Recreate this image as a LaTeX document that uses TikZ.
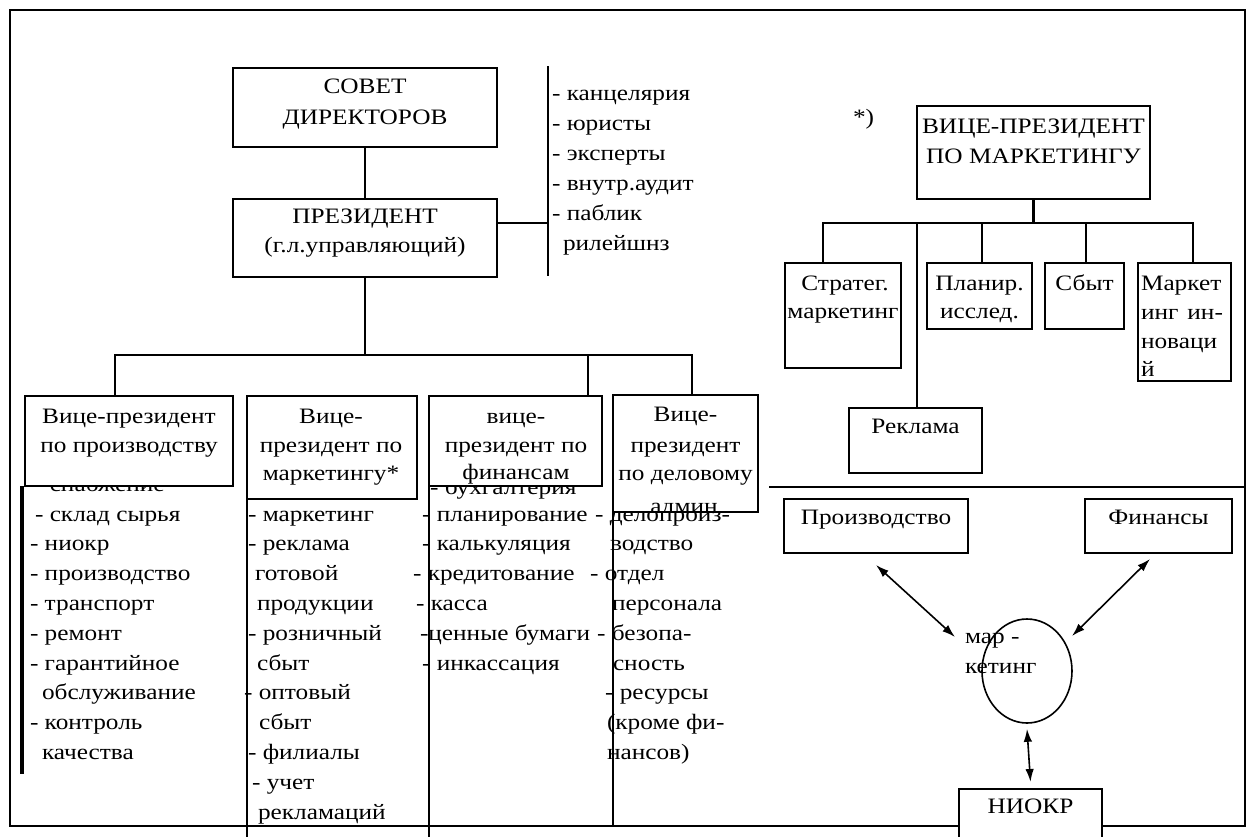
\documentclass[tikz,border=0pt]{standalone}
\usepackage{fontspec}
\setmainfont{Liberation Serif}[FakeStretch=1.15]
\usetikzlibrary{arrows.meta,calc,shapes.geometric}
\newcommand\mkbox[5]{\node[bx, minimum width={#4-#2}, minimum height={#5-#3}] (#1) at (#2,#3) {};}
\newcommand\ctx[4]{\node[txt, anchor=base west] (#1) at (#2,{521+29.8*(#3)}) {#4};}
\newcommand\tc[4]{\node[txt, anchor=base] (#1) at (#2,#3) {#4};}
\newcommand\tw[4]{\node[txt, anchor=base west] (#1) at (#2,#3) {#4};}
\begin{document}
\begin{tikzpicture}[x=1pt,y=-1pt,
  txt/.style={inner sep=0pt, outer sep=0pt, font=\fontsize{22}{26}\selectfont},
  bx/.style={draw, line width=2.6pt, fill=white, inner sep=0pt, outer sep=0pt, anchor=north west},
  ln/.style={line width=2.6pt},
  thinln/.style={line width=2pt},
  dbl/.style={line width=1.6pt, {Latex[length=13pt,width=8.5pt]}-{Latex[length=13pt,width=8.5pt]}}]
\useasboundingbox (0,0) rectangle (1250,836);
\clip (0,0) rectangle (1250,836);
\fill[white] (0,0) rectangle (1250,836);
% outer frame
\draw[ln] (10,10) rectangle (1245,826);

% ---------- column texts (under the boxes) ----------
\ctx{c1a}{35}{-1}{- снабжение}
\ctx{c1b}{35}{0}{- склад сырья}
\ctx{c1c}{30}{1}{- ниокр}
\ctx{c1d}{30}{2}{- производство}
\ctx{c1e}{30}{3}{- транспорт}
\ctx{c1f}{30}{4}{- ремонт}
\ctx{c1g}{30}{5}{- гарантийное}
\ctx{c1h}{42}{6}{обслуживание}
\ctx{c1i}{30}{7}{- контроль}
\ctx{c1j}{42}{8}{качества}

\ctx{c2a}{248}{0}{- маркетинг}
\ctx{c2b}{248}{1}{- реклама}
\ctx{c2c}{255}{2}{готовой}
\ctx{c2d}{257}{3}{продукции}
\ctx{c2e}{248}{4}{- розничный}
\ctx{c2f}{257}{5}{сбыт}
\ctx{c2g}{244}{6}{- оптовый}
\ctx{c2h}{259}{7}{сбыт}
\ctx{c2i}{248}{8}{- филиалы}
\ctx{c2j}{252}{9}{- учет}
\ctx{c2k}{258}{10}{рекламаций}

\ctx{c3a}{430}{-0.9}{- бухгалтерия}
\ctx{c3b}{422}{0}{- планирование}
\ctx{c3c}{422}{1}{- калькуляция}
\ctx{c3d}{413}{2}{- кредитование}
\ctx{c3e}{416}{3}{- касса}
\ctx{c3f}{420}{4}{-ценные бумаги}
\ctx{c3g}{422}{5}{- инкассация}

\ctx{c4a}{595}{0}{- делопроиз-}
\ctx{c4b}{610}{1}{водство}
\ctx{c4c}{590}{2}{- отдел}
\ctx{c4d}{612}{3}{персонала}
\ctx{c4e}{597}{4}{- безопа-}
\ctx{c4f}{613}{5}{сность}
\ctx{c4g}{605}{6}{- ресурсы}
\ctx{c4h}{607}{7}{(кроме фи-}
\ctx{c4i}{607}{8}{нансов)}

% ---------- top left boxes ----------
\mkbox{sovet}{233}{68}{497}{147}
\mkbox{pres}{233}{199}{497}{277}
\draw[ln] (sovet.south) -- (pres.north);
\coordinate (prj) at (548,223);
\coordinate (lt) at (548,66);
\coordinate (lb) at (548,276);
\draw[ln] (prj -| pres.east) -- (prj);
\draw[thinln] (lt) -- (lb);
\tc{t1}{365}{93}{СОВЕТ}
\tc{t2}{365}{124}{ДИРЕКТОРОВ}
\tc{t3}{365}{223}{ПРЕЗИДЕНТ}
\tc{t4}{365}{252}{(г.л.управляющий)}
\tw{l1}{552}{100}{- канцелярия}
\tw{l2}{552}{130}{- юристы}
\tw{l3}{552}{160}{- эксперты}
\tw{l4}{552}{190}{- внутр.аудит}
\tw{l5}{552}{220}{- паблик}
\tw{l6}{563}{250}{рилейшнз}

% ---------- vice president boxes ----------
\mkbox{vp1}{25}{396}{233}{486}
\mkbox{vp2}{247}{396}{417}{499}
\mkbox{vp3}{429}{396}{602}{486}
\mkbox{vp4}{613}{395}{758}{512}

\coordinate (bus) at (365,355);
\coordinate (busL) at (115,355);
\coordinate (busR) at (692,355);
\coordinate (bus3) at (588,355);
\draw[ln] (pres.south) -- (bus);
\draw[ln] (busL |- vp1.north) -- (busL) -- (busR) -- (busR |- vp4.north);
\draw[ln] (bus3) -- (bus3 |- vp3.north);

% column lines
\coordinate (c1top) at (22,486);
\coordinate (c1bot) at (22,774);
\draw[line width=4pt] (c1top) -- (c1bot);
\draw[ln] (vp2.south west) -- ++(0,360);
\draw[ln] (vp3.south west) -- ++(0,360);
\draw[ln] (vp4.south west) -- ++(0,314);

\tc{v1a}{129}{423}{Вице-президент}
\tc{v1b}{129}{452}{по производству}
\tc{v2a}{331}{423}{Вице-}
\tc{v2b}{331}{452}{президент по}
\tc{v2c}{331}{480}{маркетингу*}
\tc{v3a}{516}{423}{вице-}
\tc{v3b}{516}{452}{президент по}
\tc{v3c}{516}{479}{финансам}
\tc{v4a}{685.5}{421}{Вице-}
\tc{v4b}{685.5}{452}{президент}
\tc{v4c}{685.5}{480}{по деловому}
\begin{scope}
\clip (vp4.south west) rectangle (vp4.north east);
\tc{v4d}{684}{513}{админ}
\end{scope}
\draw[ln] (vp4.south west) -- (vp4.south east);

% ---------- right top: marketing VP ----------
\coordinate (hl) at (769,487);
\coordinate (hr) at (1245,487);
\draw[ln] (hl) -- (hr);
\tw{star}{853}{124}{*)}
\mkbox{vpm}{917}{106}{1150}{199}
\tc{m1}{1033.5}{133}{ВИЦЕ-ПРЕЗИДЕНТ}
\tc{m2}{1033.5}{163}{ПО МАРКЕТИНГУ}
\mkbox{strat}{785}{263}{901}{368}
\mkbox{plan}{927}{263}{1032}{329}
\mkbox{sbyt}{1045}{263}{1124}{329}
\mkbox{innov}{1138}{263}{1231}{381}
\mkbox{rekl}{849}{408}{982}{473}
\coordinate (mb) at (1033.5,223);
\coordinate (mbL) at (823,223);
\coordinate (mbR) at (1193,223);
\coordinate (mb2) at (917,223);
\coordinate (mb3) at (982,223);
\coordinate (mb4) at (1086,223);
\draw[ln] (vpm.south) -- (mb);
\draw[ln] (mbL |- strat.north) -- (mbL) -- (mbR) -- (mbR |- innov.north);
\draw[ln] (mb2) -- (mb2 |- rekl.north);
\draw[ln] (mb3) -- (mb3 |- plan.north);
\draw[ln] (mb4) -- (mb4 |- sbyt.north);
\tc{s1}{845}{290}{Стратег.}
\tc{s2}{843}{318}{маркетинг}
\tc{p1}{979.5}{290}{Планир.}
\tc{p2}{979.5}{318}{исслед.}
\tc{sb}{1084.5}{290}{Сбыт}
\tw{i1}{1141}{290}{Маркет}
\tw{i2}{1141}{319}{инг\hspace{9pt}ин-}
\tw{i3}{1141}{348}{новаци}
\tw{i4}{1141}{376}{й}
\tc{r1}{915.5}{433}{Реклама}

% ---------- right bottom ----------
\mkbox{proizv}{784}{499}{968}{553}
\mkbox{fin}{1085}{499}{1232}{553}
\tc{pr}{876}{524}{Производство}
\tc{fi}{1158.5}{524}{Финансы}
\node[draw, ellipse, line width=1.6pt, minimum width=90pt, minimum height=104pt, inner sep=0pt] (mk) at (1027,671) {};
\tw{mk1}{965}{643}{мар -}
\tw{mk2}{965}{673}{кетинг}
\coordinate (a1s) at (876,565);
\coordinate (a1e) at (955,637);
\coordinate (a2s) at (1150,559);
\coordinate (a2e) at (1072,636);
\draw[dbl] (a1s) -- (a1e);
\draw[dbl] (a2s) -- (a2e);
\mkbox{niokr}{959}{789}{1102}{880}
\draw[dbl] ([yshift=-5pt]mk.south) -- ([yshift=7pt]niokr.north);
\tc{nk}{1030.5}{813}{НИОКР}
\end{tikzpicture}
\end{document}
